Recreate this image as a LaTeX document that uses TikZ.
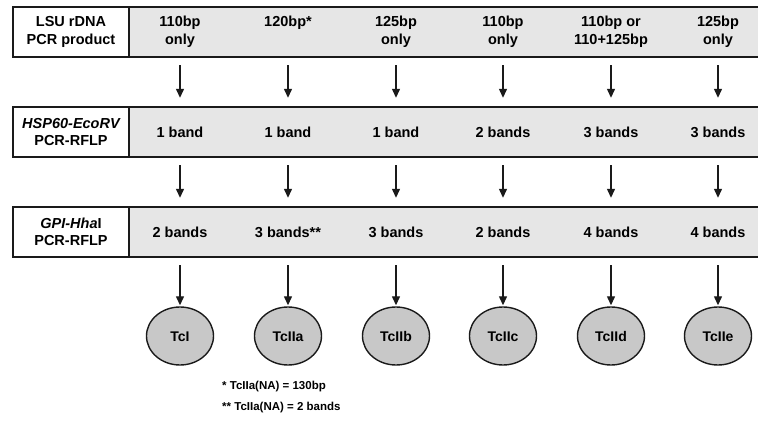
\documentclass[tikz,border=0pt]{standalone}
\usepackage{fontspec}
\setmainfont{Liberation Sans}
\usetikzlibrary{arrows.meta,shapes.geometric}
\definecolor{bandgray}{HTML}{E6E6E6}
\definecolor{circgray}{HTML}{C8C8C8}
\definecolor{ink}{HTML}{1A1A1A}
\begin{document}
\begin{tikzpicture}[x=1pt,y=-1pt,
  hdr/.style={draw=ink,line width=1.6pt,fill=white,minimum width=116pt,minimum height=50pt,inner sep=0pt,align=center,font=\fontsize{14.5}{17.5}\selectfont\bfseries},
  cell/.style={minimum width=100pt,minimum height=50pt,inner sep=0pt,align=center,font=\fontsize{14.5}{17.5}\selectfont\bfseries},
  typ/.style={ellipse,draw=ink,line width=1.4pt,fill=circgray,minimum width=67pt,minimum height=58pt,inner sep=0pt,text height=10pt,text depth=0pt,font=\fontsize{14}{16}\selectfont\bfseries},
  arr/.style={-{Triangle[length=9pt,width=8pt]},line width=1.3pt,draw=ink,shorten <=8pt,shorten >=9pt},
  band/.style={fill=bandgray},
  note/.style={anchor=west,inner sep=0pt,font=\fontsize{11.5}{13}\selectfont\bfseries}
]
\useasboundingbox (0,0) rectangle (758,422);
% bands
\foreach \t in {7,107,207}{
  \fill[band] (13,\t) rectangle (758,\t+50);
  \draw[ink,line width=1.6pt] (758,\t) -- (13,\t) -- (13,\t+50) -- (758,\t+50);
}
% headers
\node[hdr] (h1) at (71,32) {LSU rDNA\\PCR product};
\node[hdr] (h2) at (71,132) {\itshape HSP60-EcoRV\\PCR-RFLP};
\node[hdr] (h3) at (71,232) {\textit{GPI-Hha}I\\PCR-RFLP};
% row 1
\node[cell] (a1) at (180,32) {110bp\\only};
\node[cell] (a2) at (288,32) {120bp*\\\phantom{only}};
\node[cell] (a3) at (396,32) {125bp\\only};
\node[cell] (a4) at (503,32) {110bp\\only};
\node[cell] (a5) at (611,32) {110bp or\\110+125bp};
\node[cell] (a6) at (718,32) {125bp\\only};
% row 2
\node[cell] (b1) at (180,132) {1 band};
\node[cell] (b2) at (288,132) {1 band};
\node[cell] (b3) at (396,132) {1 band};
\node[cell] (b4) at (503,132) {2 bands};
\node[cell] (b5) at (611,132) {3 bands};
\node[cell] (b6) at (718,132) {3 bands};
% row 3
\node[cell] (c1) at (180,232) {2 bands};
\node[cell] (c2) at (288,232) {3 bands**};
\node[cell] (c3) at (396,232) {3 bands};
\node[cell] (c4) at (503,232) {2 bands};
\node[cell] (c5) at (611,232) {4 bands};
\node[cell] (c6) at (718,232) {4 bands};
% types
\node[typ] (t1) at (180,336) {TcI};
\node[typ] (t2) at (288,336) {TcIIa};
\node[typ] (t3) at (396,336) {TcIIb};
\node[typ] (t4) at (503,336) {TcIIc};
\node[typ] (t5) at (611,336) {TcIId};
\node[typ] (t6) at (718,336) {TcIIe};
% arrows
\foreach \i in {1,...,6}{
  \draw[arr] (a\i.south) -- (b\i.north);
  \draw[arr] (b\i.south) -- (c\i.north);
  \draw[arr,shorten >=1pt] (c\i.south) -- (t\i.north);
}
% notes
\node[note] (n1) at (222,387) {* TcIIa(NA) = 130bp};
\node[note] (n2) at (222,408) {** TcIIa(NA) = 2 bands};
\end{tikzpicture}
\end{document}
